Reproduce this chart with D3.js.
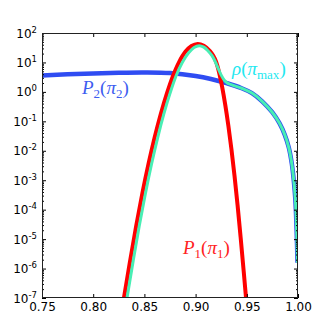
<!DOCTYPE html>
<html>
<head>
<meta charset="utf-8">
<script src="https://cdn.jsdelivr.net/npm/d3@7"></script>
<style>
  body { margin: 0; background: #fff; }
  .tick text { font-family: "DejaVu Sans", sans-serif; font-size: 12px; fill: #000; }
</style>
</head>
<body>
<div id="chart-container"></div>
<script>
// x positions and values
const xTicks = [0.75, 0.80, 0.85, 0.90, 0.95, 1.00];
const yTickExps = [-7, -6, -5, -4, -3, -2, -1, 0, 1, 2];

// P2(pi2) - blue
const p2X = [0.750, 0.775, 0.800, 0.825, 0.850, 0.875, 0.900, 0.915, 0.930, 0.945, 0.955,
             0.965, 0.975, 0.982, 0.987, 0.991, 0.994, 0.996, 0.9975, 0.9987, 0.9995];
const p2Y = [3.6, 3.94, 4.25, 4.49, 4.59, 4.37, 3.47, 2.75, 2.0, 1.33, 0.912,
             0.479, 0.200, 0.0851, 0.0355, 0.0129, 3.55e-3, 8.9e-4, 2.0e-4, 1.78e-5, 1.58e-6];

// P1(pi1) - red
const p1X = [0.824, 0.830, 0.836, 0.842, 0.848, 0.854, 0.860, 0.866, 0.872, 0.878, 0.884,
             0.890, 0.896, 0.902, 0.908, 0.914, 0.917, 0.920, 0.923, 0.926, 0.929,
             0.932, 0.935, 0.938, 0.941, 0.944, 0.947, 0.950];
const p1Y = [5e-9, 1e-7, 1.78e-6, 2.82e-5, 3.55e-4, 3.55e-3, 2.82e-2, 0.178, 0.89, 3.55, 10.5,
             22.9, 36.3, 42.7, 37.2, 24.5, 17.4, 10.5, 4.47, 1.41, 0.355,
             0.0708, 0.0112, 1.41e-3, 1.41e-4, 1.12e-5, 7.9e-7, 5.0e-8];

// rho(pi_max) - aquamarine
const rhoX = [0.827, 0.833, 0.839, 0.845, 0.851, 0.857, 0.863, 0.869, 0.875, 0.881, 0.887,
              0.893, 0.8985, 0.9035, 0.908, 0.912, 0.916, 0.919, 0.922, 0.925, 0.928,
              0.931, 0.945, 0.955, 0.965, 0.975, 0.982, 0.987, 0.991, 0.994, 0.996,
              0.9975, 0.9987, 0.9995];
const rhoY = [5e-9, 1e-7, 1.78e-6, 2.82e-5, 3.55e-4, 3.55e-3, 2.82e-2, 0.178, 0.89, 3.55, 10,
              20.9, 32.4, 37.2, 33.1, 25.1, 17.0, 11.0, 6.3, 3.7, 2.5,
              2.0, 1.33, 0.912, 0.479, 0.200, 0.0851, 0.0355, 0.0129, 3.55e-3, 8.9e-4,
              2.0e-4, 1.78e-5, 1.58e-6];

const svgWidth = 332, svgHeight = 332;
const margin = { top: 33, right: 34, bottom: 34, left: 42 };
const plotW = svgWidth - margin.left - margin.right;
const plotH = svgHeight - margin.top - margin.bottom;

const svg = d3.select("#chart-container").append("svg")
    .attr("width", svgWidth)
    .attr("height", svgHeight);

const x = d3.scaleLinear().domain([0.75, 1.0]).range([margin.left, margin.left + plotW]);
const y = d3.scaleLog().domain([1e-7, 1e2]).range([margin.top + plotH, margin.top]);

svg.append("defs").append("clipPath").attr("id", "plot-clip")
  .append("rect")
    .attr("x", margin.left).attr("y", margin.top)
    .attr("width", plotW).attr("height", plotH);

const line = d3.line()
    .x(d => x(d[0]))
    .y(d => y(d[1]))
    .curve(d3.curveCatmullRom.alpha(0.5));

const curves = svg.append("g").attr("clip-path", "url(#plot-clip)");

curves.append("path")
    .datum(d3.zip(p2X, p2Y))
    .attr("d", line)
    .attr("fill", "none")
    .attr("stroke", "#2f4cf2")
    .attr("stroke-width", 4.5);

curves.append("path")
    .datum(d3.zip(p1X, p1Y))
    .attr("d", line)
    .attr("fill", "none")
    .attr("stroke", "#ff0000")
    .attr("stroke-width", 4);

curves.append("path")
    .datum(d3.zip(rhoX, rhoY))
    .attr("d", line)
    .attr("fill", "none")
    .attr("stroke", "#48eeb4")
    .attr("stroke-width", 3);

// axes, ticks pointing inward
const xAxisB = d3.axisBottom(x).tickValues(xTicks).tickSize(-4).tickPadding(4)
    .tickFormat(d3.format(".2f"));
svg.append("g").attr("transform", `translate(0,${margin.top + plotH})`).call(xAxisB)
    .call(g => g.select(".domain").remove());

const xAxisT = d3.axisTop(x).tickValues(xTicks).tickSize(-4).tickFormat("");
svg.append("g").attr("transform", `translate(0,${margin.top})`).call(xAxisT)
    .call(g => g.select(".domain").remove());

// minor ticks for log axis
const minorVals = [];
for (let e = -7; e < 2; e++) {
  for (let m = 2; m <= 9; m++) minorVals.push(m * Math.pow(10, e));
}
const majorVals = yTickExps.map(e => Math.pow(10, e));

[[d3.axisLeft, margin.left], [d3.axisRight, margin.left + plotW]].forEach(([ax, pos]) => {
  svg.append("g").attr("transform", `translate(${pos},0)`)
    .call(ax(y).tickValues(minorVals).tickSize(-2).tickFormat(""))
    .call(g => g.select(".domain").remove());
  svg.append("g").attr("transform", `translate(${pos},0)`)
    .call(ax(y).tickValues(majorVals).tickSize(-4).tickFormat(""))
    .call(g => g.select(".domain").remove());
});

// y tick labels as 10^n
const yLab = svg.append("g");
yTickExps.forEach(e => {
  const t = yLab.append("text")
      .attr("x", 37)
      .attr("y", y(Math.pow(10, e)) + 4.5)
      .attr("text-anchor", "end")
      .style("font-family", "DejaVu Sans, sans-serif")
      .style("font-size", "12px");
  t.append("tspan").text("10");
  t.append("tspan").attr("dy", -5).style("font-size", "8.5px").text(e);
});

// frame
svg.append("rect")
    .attr("x", margin.left + 0.5).attr("y", margin.top + 0.5)
    .attr("width", plotW - 1).attr("height", plotH - 1)
    .attr("fill", "none")
    .attr("stroke", "#222")
    .attr("stroke-width", 1);

// curve labels in math style
function mathLabel(px, py, color, parts) {
  const t = svg.append("text")
      .attr("x", px).attr("y", py)
      .attr("fill", color)
      .style("font-family", "Liberation Serif, serif")
      .style("font-size", "19px");
  parts.forEach(p => {
    const s = t.append("tspan").text(p.t);
    if (p.it) s.style("font-style", "italic");
    if (p.sub) s.attr("dy", 4).style("font-size", "13px");
    if (p.back) s.attr("dy", -4);
  });
}

mathLabel(82, 94, "#3d5cf0", [
  { t: "P", it: true }, { t: "2", sub: true }, { t: "(", back: true },
  { t: "π", it: true }, { t: "2", sub: true }, { t: ")", back: true }]);

mathLabel(183, 254, "#ff2222", [
  { t: "P", it: true }, { t: "1", sub: true }, { t: "(", back: true },
  { t: "π", it: true }, { t: "1", sub: true }, { t: ")", back: true }]);

mathLabel(232, 75, "#22e8f0", [
  { t: "ρ", it: true }, { t: "(", },
  { t: "π", it: true }, { t: "max", sub: true }, { t: ")", back: true }]);
</script>
</body>
</html>
